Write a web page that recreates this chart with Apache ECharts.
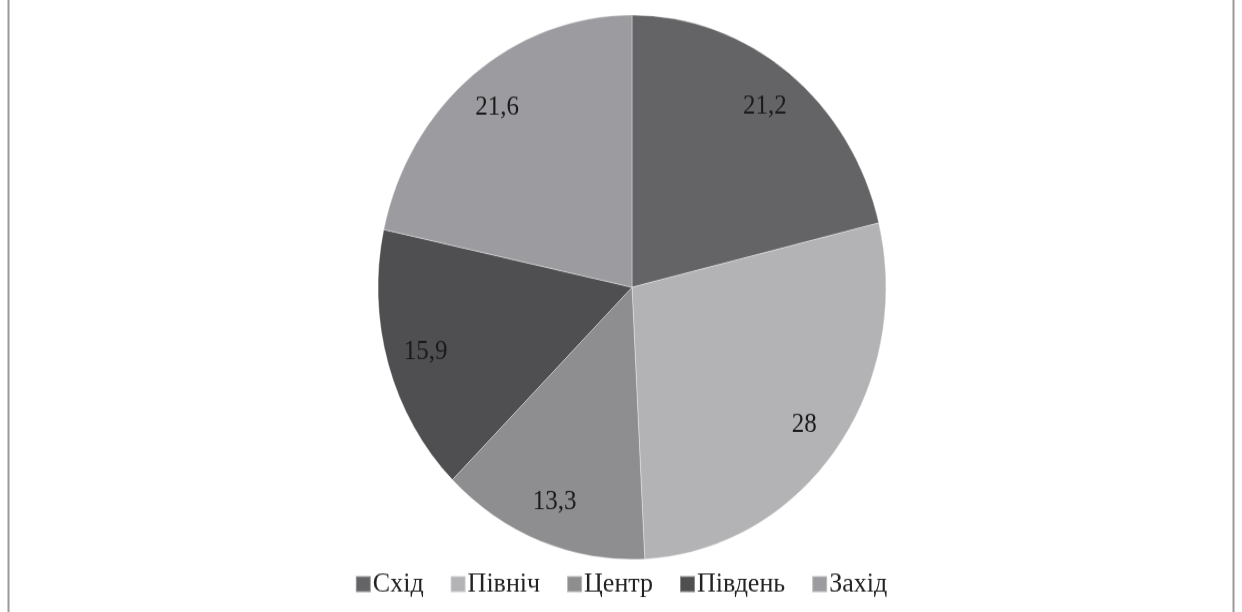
<!DOCTYPE html>
<html><head><meta charset="utf-8">
<script src="https://cdn.jsdelivr.net/npm/echarts@6/dist/echarts.min.js"></script>
<style>
html,body{margin:0;padding:0;background:#fff;}
#wrap{width:1242px;height:612px;overflow:hidden;position:relative;background:#fff;}
#c{width:1242px;height:571px;transform:scaleY(1.0718);transform-origin:0 0;}
</style></head>
<body>
<div id="wrap"><div id="c"></div></div>
<script>
const categories = ['Схід', 'Північ', 'Центр', 'Південь', 'Захід'];
const values = [21.2, 28, 13.3, 15.9, 21.6];
const colors = ['#646466', '#b3b3b5', '#8e8e90', '#4f4f51', '#9c9ca0'];

const chart = echarts.init(document.getElementById('c'), null, {renderer: 'canvas'});
const data = categories.map((n, i) => ({name: n, value: values[i]}));
const fmt = p => String(p.value).replace('.', ',');
chart.setOption({
  animation: false,
  color: colors,
  graphic: [
    {type: 'line', shape: {x1: 8.5, y1: 0, x2: 8.5, y2: 571}, style: {stroke: '#9a9a9a', lineWidth: 2}},
    {type: 'line', shape: {x1: 1233.5, y1: 0, x2: 1233.5, y2: 571}, style: {stroke: '#9a9a9a', lineWidth: 2}}
  ],
  legend: {
    data: categories,
    top: 527,
    left: 'center',
    itemWidth: 15,
    itemHeight: 15,
    itemGap: 26,
    icon: 'rect',
    textStyle: {fontFamily: 'Liberation Serif', fontSize: 26, color: '#222', padding: [0, 0, 0, -3]}
  },
  series: [
    {
      type: 'pie',
      center: [632, 268],
      radius: [0, 254],
      startAngle: 90,
      clockwise: true,
      data: data,
      label: {show: false},
      labelLine: {show: false},
      itemStyle: {borderColor: 'rgba(255,255,255,0.35)', borderWidth: 1},
      emphasis: {disabled: true}
    },
    {
      type: 'pie',
      center: [632, 268],
      radius: [170, 254],
      startAngle: 90,
      clockwise: true,
      silent: true,
      legendHoverLink: false,
      data: data,
      itemStyle: {color: 'rgba(0,0,0,0)', borderWidth: 0},
      label: {show: true, position: 'inside', formatter: fmt, fontFamily: 'Liberation Serif', fontSize: 25, color: '#1a1a1a'},
      labelLine: {show: false},
      emphasis: {disabled: true}
    }
  ]
});
</script>
</body></html>
